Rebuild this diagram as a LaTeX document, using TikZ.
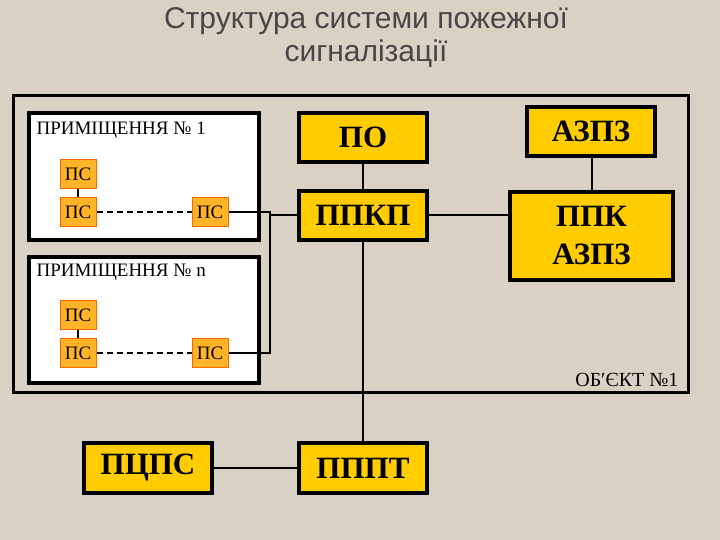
\documentclass[tikz,border=0pt]{standalone}
\usepackage{fontspec}
\setmainfont{Liberation Serif}
\newfontfamily\sansf{Liberation Sans}
\begin{document}
\begin{tikzpicture}[x=1pt,y=-1pt,
  big/.style={draw=black,line width=3.5pt,fill=yellowbox,font=\fontsize{31}{32}\selectfont\bfseries,align=center,inner sep=0pt},
  room/.style={draw=black,line width=4pt,fill=white},
  ps/.style={draw=orange!80!red,line width=1pt,fill=psfill,minimum width=36pt,minimum height=29pt,inner sep=0pt,font=\fontsize{19}{19}\selectfont},
  ln/.style={line width=2pt}]
\definecolor{yellowbox}{HTML}{FFCC00}
\definecolor{psfill}{HTML}{FFB428}
\definecolor{bg}{HTML}{D9D1C3}
\fill[bg] (0,0) rectangle (720,540);
\useasboundingbox (0,0) rectangle (720,540);
\node[font=\sansf\fontsize{30}{33}\selectfont,text=black!72,align=center] (title) at (366,38) {Структура системи пожежної\\сигналізації};
\draw[line width=3pt] (13,96) rectangle (688,392);
\node[anchor=south east,font=\fontsize{20}{20}\selectfont] (obj) at (682,390) {ОБ′ЄКТ №1};
% rooms
\draw[room] (29,113) rectangle (259,240);
\draw[room] (29,257) rectangle (259,383);
\node[anchor=north west,font=\fontsize{19}{19}\selectfont] (r1) at (33,118) {ПРИМІЩЕННЯ № 1};
\node[anchor=north west,font=\fontsize{19}{19}\selectfont] (rn) at (33,261) {ПРИМІЩЕННЯ № n};
\node[ps] (a1) at (78,174) {ПС};
\node[ps] (b1) at (78,212) {ПС};
\node[ps] (c1) at (210,212) {ПС};
\node[ps] (a2) at (78,315) {ПС};
\node[ps] (b2) at (78,353) {ПС};
\node[ps] (c2) at (210,353) {ПС};
\draw[ln] (a1) -- (b1); \draw[ln] (a2) -- (b2);
\draw[line width=1.5pt,dash pattern=on 6pt off 4pt] (b1) -- (c1);
\draw[line width=1.5pt,dash pattern=on 6pt off 4pt] (b2) -- (c2);
% big boxes
\node[big,minimum width=128pt,minimum height=49pt] (po) at (363,137.5) {ПО};
\node[big,minimum width=128pt,minimum height=49pt] (ppkp) at (363,215.5) {ППКП};
\node[big,minimum width=128pt,minimum height=49pt] (azpz) at (591,131.5) {АЗПЗ};
\node[big,minimum width=163pt,minimum height=88pt,font=\fontsize{31}{38}\selectfont\bfseries] (ppk) at (591.5,236) {ППК\\АЗПЗ};
\node[big,minimum width=128pt,minimum height=50pt] (pppt) at (363,468) {ПППТ};
\node[big,minimum width=128pt,minimum height=50pt] (pcps) at (148,468) {ПЦПС};
\coordinate (j) at (270,215.5);
\draw[ln] (c1.east) -- (c1.east -| j) |- (c2.east);
\draw[ln] (j) -- (ppkp.west);
\draw[ln] (po) -- (ppkp);
\draw[ln] (ppkp) -- (ppk.west |- ppkp);
\draw[ln] (azpz.south -| ppk.north) -- (ppk.north);
\draw[ln] (ppkp) -- (pppt);
\draw[ln] (pcps) -- (pppt);
\end{tikzpicture}
\end{document}
